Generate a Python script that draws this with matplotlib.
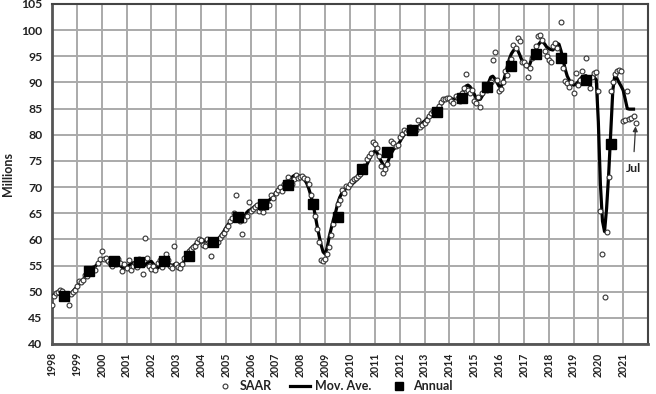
import numpy as np
import matplotlib
matplotlib.use("Agg")
import matplotlib.pyplot as plt
from matplotlib.lines import Line2D

plt.rcParams['font.family'] = ['Lato', 'DejaVu Sans']

# ---------------- data ----------------
start_year = 1998
# Monthly SAAR, Jan 1998 .. Jul 2021 (millions)
saar = [
    47.5, 49.2, 49.8, 50.0, 50.3, 50.1, 49.5, 48.9, 47.5, 49.5, 50.0, 50.4,   # 1998
    51.0, 52.0, 51.8, 52.3, 53.2, 53.0, 53.9, 54.0, 54.5, 54.2, 55.4, 56.2,   # 1999
    57.7, 56.2, 56.4, 55.8, 55.5, 55.0, 56.0, 55.3, 56.3, 55.5, 54.0, 55.2,   # 2000
    54.5, 56.0, 54.2, 55.0, 55.5, 54.8, 56.2, 55.3, 53.3, 60.2, 56.5, 55.0,   # 2001
    54.3, 55.0, 54.2, 55.5, 56.0, 54.8, 56.2, 57.3, 56.0, 55.0, 54.5, 58.8,   # 2002
    55.2, 54.8, 54.6, 55.3, 56.5, 57.0, 57.8, 58.1, 58.5, 58.8, 59.5, 60.0,   # 2003
    59.8, 59.0, 58.8, 60.0, 59.5, 56.8, 59.2, 59.8, 59.5, 60.3, 60.8, 61.3,   # 2004
    61.9, 62.5, 63.5, 64.1, 65.1, 68.4, 64.5, 63.5, 61.0, 63.8, 64.5, 67.2,   # 2005
    65.5, 65.8, 66.2, 66.6, 65.5, 66.0, 65.3, 66.2, 67.0, 66.5, 68.5, 68.0,   # 2006
    68.9, 69.5, 70.0, 69.3, 70.5, 71.0, 72.0, 71.2, 70.5, 71.5, 72.3, 71.8,   # 2007
    72.0, 72.2, 71.8, 71.5, 70.5, 68.5, 66.5, 64.5, 62.0, 59.5, 56.0, 55.8,   # 2008
    56.2, 57.2, 58.5, 60.9, 63.0, 64.5, 66.7, 67.5, 69.5, 68.8, 70.2, 70.0,   # 2009
    70.5, 71.2, 71.5, 71.8, 72.1, 72.5, 73.0, 74.0, 75.3, 75.9, 76.5, 78.6,   # 2010
    78.3, 77.5, 76.0, 74.0, 72.6, 73.5, 74.5, 76.5, 78.8, 78.5, 77.9, 78.0,   # 2011
    79.5, 80.2, 80.9, 80.5, 81.0, 81.5, 81.2, 80.5, 81.0, 82.8, 81.5, 81.8,   # 2012
    82.2, 82.8, 83.5, 84.1, 84.5, 84.2, 85.0, 85.5, 86.3, 86.8, 86.9, 87.1,   # 2013
    87.0, 86.5, 86.0, 87.5, 87.0, 86.5, 88.0, 89.0, 91.7, 88.5, 88.0, 88.5,   # 2014
    86.5, 86.0, 87.2, 85.4, 88.0, 89.0, 88.5, 89.5, 90.0, 94.3, 95.8, 90.5,   # 2015
    88.3, 88.7, 90.0, 92.1, 91.5, 93.0, 94.5, 97.2, 96.5, 98.5, 97.9, 94.0,   # 2016
    94.0, 93.4, 91.0, 92.8, 94.7, 95.5, 96.9, 98.8, 99.1, 98.2, 96.0, 95.0,   # 2017
    94.3, 94.0, 96.9, 97.6, 96.5, 94.4, 101.5, 92.8, 90.2, 89.9, 89.2, 90.0,  # 2018
    88.0, 91.8, 89.5, 90.5, 92.1, 90.0, 94.6, 90.4, 89.0, 91.0, 91.9, 92.0,   # 2019
    88.4, 65.5, 57.2, 49.0, 61.5, 72.0, 88.4, 90.1, 91.7, 92.2, 92.3, 92.1,   # 2020
    82.6, 82.8, 88.4, 83.0, 83.3, 83.6, 82.3,                                 # 2021
]
# Moving average, Jan 1998 .. Jun 2021
mov_ave = [
    49.2, 49.4, 49.5, 49.5, 49.4, 49.3, 49.1, 49.1, 49.3, 49.6, 50.0, 50.5,   # 1998
    50.9, 51.4, 51.9, 52.3, 52.8, 53.3, 53.9, 54.2, 54.6, 54.9, 55.3, 55.7,   # 1999
    56.1, 56.2, 56.0, 55.7, 55.6, 55.7, 55.8, 55.7, 55.4, 55.0, 54.6, 54.5,   # 2000
    54.7, 55.0, 55.3, 55.5, 55.6, 55.8, 55.6, 55.2, 54.8, 55.1, 55.5, 55.7,   # 2001
    55.8, 55.3, 54.8, 54.5, 54.8, 55.2, 55.5, 55.7, 55.5, 55.2, 55.0, 55.2,   # 2002
    55.4, 55.2, 55.1, 55.2, 56.0, 56.8, 57.6, 58.2, 58.6, 59.0, 59.3, 59.4,   # 2003
    59.5, 59.6, 59.7, 59.6, 59.5, 59.4, 59.5, 59.7, 60.0, 60.4, 60.9, 61.5,   # 2004
    62.2, 62.8, 63.3, 63.8, 64.2, 64.4, 64.2, 63.7, 63.6, 64.3, 65.1, 65.5,   # 2005
    65.7, 66.0, 66.3, 66.6, 66.8, 66.6, 66.3, 66.5, 67.0, 67.5, 67.9, 68.3,   # 2006
    68.9, 69.3, 69.7, 70.1, 70.4, 70.8, 71.1, 71.5, 71.9, 72.2, 72.3, 72.2,   # 2007
    72.0, 71.8, 71.4, 70.8, 69.8, 68.5, 67.0, 65.0, 62.8, 60.8, 59.0, 57.6,   # 2008
    57.2, 58.5, 60.6, 62.2, 63.8, 65.1, 66.8, 68.0, 68.8, 69.3, 69.7, 70.0,   # 2009
    70.3, 70.6, 70.9, 71.3, 71.7, 72.1, 72.6, 73.4, 74.2, 75.0, 75.9, 76.5,   # 2010
    76.9, 76.6, 75.8, 75.0, 74.3, 73.9, 74.6, 75.6, 76.5, 77.2, 77.6, 78.0,   # 2011
    78.6, 79.3, 79.9, 80.4, 80.8, 81.0, 81.1, 81.2, 81.4, 81.6, 81.9, 82.3,   # 2012
    82.6, 83.0, 83.4, 83.8, 84.2, 84.5, 84.9, 85.3, 85.8, 86.3, 86.7, 87.0,   # 2013
    87.0, 86.9, 86.8, 86.9, 87.1, 87.3, 87.8, 88.5, 89.3, 89.5, 89.2, 88.5,   # 2014
    87.8, 87.0, 86.7, 86.8, 87.5, 88.2, 89.0, 90.0, 91.0, 91.2, 90.7, 90.0,   # 2015
    89.3, 89.2, 90.0, 91.5, 93.0, 94.5, 95.5, 96.1, 96.4, 96.2, 95.3, 94.3,   # 2016
    93.7, 93.1, 92.9, 93.6, 94.8, 95.7, 96.5, 97.2, 97.7, 97.8, 97.4, 96.8,   # 2017
    96.5, 96.3, 96.2, 96.6, 97.5, 97.3, 96.0, 94.3, 92.5, 91.2, 90.4, 89.8,   # 2018
    89.5, 89.6, 90.0, 90.5, 91.0, 91.2, 91.3, 91.0, 90.8, 91.0, 91.0, 90.5,   # 2019
    82.5, 70.5, 63.5, 61.5, 66.0, 72.5, 80.5, 88.5, 91.5, 90.8, 90.0, 89.3,   # 2020
    88.5, 86.8, 85.0, 84.9, 84.9, 84.9,                                       # 2021
]
annual_years = list(range(1998, 2021))
annual = [49.2, 53.9, 55.8, 55.7, 55.8, 56.9, 59.5, 64.3, 66.8, 70.4, 66.7,
          64.3, 73.4, 76.7, 81.0, 84.4, 87.1, 89.2, 93.2, 95.4, 94.6, 90.5, 78.3]
tick_years = list(range(1998, 2022))

# ---------------- figure ----------------
W, H = 656, 394
fig = plt.figure(figsize=(W / 100, H / 100), dpi=100)
ax = fig.add_axes([52 / W, 1 - 344 / H, (648 - 52) / W, (344 - 4) / H])

x_saar = start_year + np.arange(len(saar)) / 12.0
x_ma = start_year + np.arange(len(mov_ave)) / 12.0
x_ann = np.array(annual_years) + 0.5

ax.plot(x_ma, mov_ave, color='black', lw=2.3, zorder=3, solid_joinstyle='round')
ax.plot(x_saar, saar, linestyle='none', marker='o', ms=3.5, mfc='white',
        mec='#333333', mew=0.8, zorder=4)
ax.plot(x_ann, annual, linestyle='none', marker='s', ms=6.8, color='black', zorder=5)

ax.set_xlim(1998, 2022)
ax.set_ylim(40, 105)
ax.set_yticks(np.arange(40, 106, 5))
ax.set_xticks(tick_years)
ax.set_xticklabels([str(y) for y in tick_years], rotation=90, fontsize=7.6,
                   fontweight='bold', color='#222222')
for lab in ax.get_yticklabels():
    lab.set_fontsize(8.8)
    lab.set_fontweight('bold')
    lab.set_color('#222222')
ax.tick_params(axis='both', length=0)
ax.tick_params(axis='y', pad=7)
ax.tick_params(axis='x', pad=6)
ax.grid(True, color='#aaaaaa', lw=1.4, zorder=0)
ax.set_axisbelow(True)
for side in ['left', 'bottom']:
    ax.spines[side].set_color('#555555')
    ax.spines[side].set_linewidth(2.0)
for side in ['top', 'right']:
    ax.spines[side].set_color('#444444')
    ax.spines[side].set_linewidth(1.5)

ax.set_ylabel('Millions', fontsize=9, fontweight='bold', color='#222222', labelpad=5)

# annotation for last point
ax.annotate('Jul', xy=(x_saar[-1], saar[-1] - 0.7), xytext=(x_saar[-1] - 0.1, 73.6),
            ha='center', va='center', fontsize=8.8, fontweight='bold', color='#222222',
            arrowprops=dict(arrowstyle='-|>', color='#333333', lw=0.9,
                            mutation_scale=7, shrinkA=6, shrinkB=0))

handles = [
    Line2D([], [], linestyle='none', marker='o', ms=3.5, mfc='white', mec='#333333', mew=0.8),
    Line2D([], [], color='black', lw=2.3),
    Line2D([], [], linestyle='none', marker='s', ms=6, color='black'),
]
leg = fig.legend(handles, ['SAAR', 'Mov. Ave.', 'Annual'], loc='center',
                 bbox_to_anchor=(334 / W, 1 - 386 / H), ncol=3, frameon=False,
                 prop={'size': 9, 'weight': 'bold'}, handlelength=1.6,
                 handletextpad=0.4, columnspacing=1.4, borderpad=0)
for t in leg.get_texts():
    t.set_color('#222222')

fig.savefig('out.png', dpi=100)
